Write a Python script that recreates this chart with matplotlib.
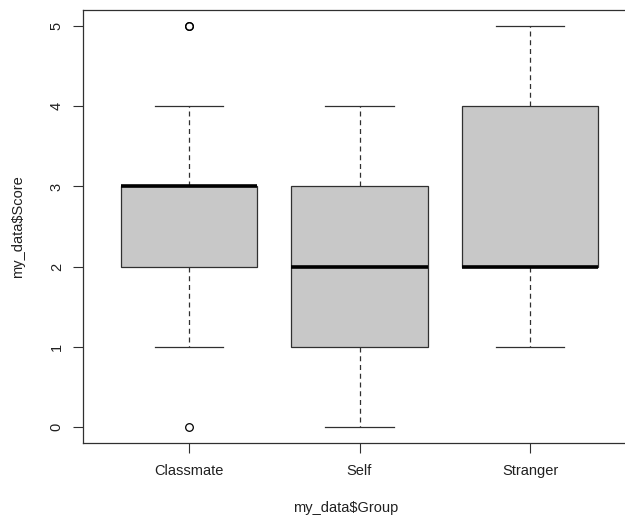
import matplotlib.pyplot as plt

plt.rcParams['font.family'] = ['Liberation Sans', 'DejaVu Sans']

groups = ['Classmate', 'Self', 'Stranger']
whisker_low = [1, 0, 1]
q1 = [2, 1, 2]
medians = [3, 2, 2]
q3 = [3, 3, 4]
whisker_high = [4, 4, 5]
outliers = [[0, 5, 5], [], []]
y_ticks = [0, 1, 2, 3, 4, 5]

stats = []
for i, g in enumerate(groups):
    stats.append({
        'label': g,
        'whislo': whisker_low[i],
        'q1': q1[i],
        'med': medians[i],
        'q3': q3[i],
        'whishi': whisker_high[i],
        'fliers': outliers[i],
    })

fig = plt.figure(figsize=(6.25, 5.2), dpi=100)
# R's plot region, right edge runs past the image
ax = fig.add_axes([0.1333, 0.148, 0.8838, 0.8327])

ax.bxp(stats, positions=[1, 2, 3], widths=0.8, patch_artist=True,
       boxprops=dict(facecolor='#c8c8c8', edgecolor='#303030', linewidth=0.9),
       medianprops=dict(color='black', linewidth=2.6, solid_capstyle='butt'),
       whiskerprops=dict(color='#303030', linewidth=0.9, linestyle=(0, (4, 3))),
       capprops=dict(color='#303030', linewidth=0.9),
       capwidths=0.4,
       flierprops=dict(marker='o', markersize=5.5, markerfacecolor='none',
                       markeredgecolor='black', markeredgewidth=0.9))

ax.set_xlim(0.38, 3.62)
ax.set_ylim(-0.2, 5.2)
ax.set_yticks(y_ticks)
ax.set_yticklabels([str(t) for t in y_ticks], rotation=90, va='center')
ax.set_xticks([1, 2, 3])
ax.set_xticklabels(groups)
ax.tick_params(axis='both', length=7, width=0.8, color='#303030',
               labelsize=10.5, labelcolor='#202020')
ax.tick_params(axis='y', pad=7)
ax.tick_params(axis='x', pad=8)
for s in ax.spines.values():
    s.set_linewidth(0.9)
    s.set_color('#303030')

fig.text(0.0288, 0.148 + 0.8327 / 2, 'my_data$Score', rotation=90,
         ha='center', va='center', fontsize=10.5, color='#202020')
fig.text(0.5536, 1 - 508 / 520, 'my_data$Group',
         ha='center', va='center', fontsize=10.5, color='#202020')

fig.savefig('out.png', dpi=100)
